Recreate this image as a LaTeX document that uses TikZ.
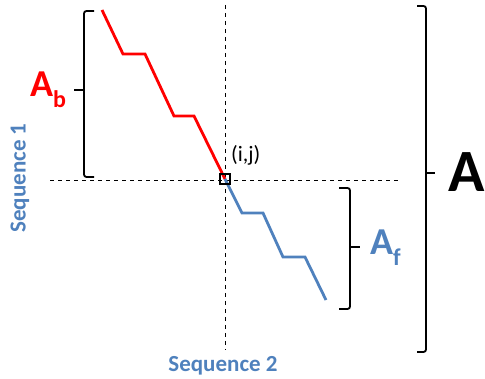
\documentclass[tikz,border=0pt]{standalone}
\usepackage{fontspec}
\setmainfont{Carlito}
\usepackage{xcolor}
\usepackage{tikz}
\usetikzlibrary{positioning, calc}
\definecolor{seqblue}{RGB}{79,129,189}
\tikzset{
  %% Dashed cross lines
  guide/.style={draw=black, line width=0.9pt, dash pattern=on 4pt off 4pt},
  %% Alignment path
  apath/.style={draw=#1, line width=2.8pt, line join=miter},
  apath/.default=red,
  %% Bracket
  bracket/.style={draw=black, line width=1.8pt, rounded corners=2.5pt},
  %% Sequence labels
  seqlbl/.style={text=seqblue, font=\fontsize{23}{23}\selectfont\bfseries,
                 inner sep=0pt},
  %% Score labels
  score/.style={font=\fontsize{#1}{#1}\selectfont\bfseries, inner sep=0pt,
                anchor=base west},
}

\begin{document}
\begin{tikzpicture}[x=1pt, y=-1pt]
  \useasboundingbox (0,0) rectangle (485,379);

  %% crossing cell
  \coordinate (ij) at (225,179);

  %% guide lines
  \coordinate (vtop) at (225,5);
  \coordinate (vbot) at (225,350);
  \coordinate (hleft) at (50,180);
  \coordinate (hright) at (398,180);
  \draw[guide] (vtop) -- (vbot);
  \draw[guide] (hleft) -- (hright);

  %% backward part
  \coordinate (r1) at (102,10);
  \coordinate (r2) at (123,54);
  \coordinate (r3) at (145,54);
  \coordinate (r4) at (174,116);
  \coordinate (r5) at (194,116);
  \draw[apath=red] (r1) -- (r2) -- (r3) -- (r4) -- (r5) -- (ij);

  %% forward part
  \coordinate (b2) at (242,213);
  \coordinate (b3) at (263,213);
  \coordinate (b4) at (283,257);
  \coordinate (b5) at (305,257);
  \coordinate (b6) at (326,300);
  \draw[apath=seqblue] (ij) -- (b2) -- (b3) -- (b4) -- (b5) -- (b6);

  \node[draw=black, line width=1.6pt, fill=none, minimum size=10pt,
        inner sep=0pt] (cell) at (ij) {};
  \node[font=\fontsize{22}{22}\selectfont, inner sep=0pt,
        anchor=base west] (ijlbl) at (231,162) {(i,j)};

  %% brackets
  \draw[bracket] (94,11) -- (84,11) -- (84,177) -- (94,177);
  \draw[bracket] (84,90) -- (74,90);
  \draw[bracket] (339,188) -- (350,188) -- (350,309) -- (339,309);
  \draw[bracket] (350,247) -- (360,247);
  \draw[bracket] (417,6) -- (426,6) -- (426,352) -- (417,352);
  \draw[bracket] (426,173) -- (435,173);

  %% scores
  \node[score=38, text=red] (ab) at (30,97)
       {A\raisebox{-0.27em}{\fontsize{24}{24}\selectfont b}};
  \node[score=38, text=seqblue] (af) at (370,255)
       {A\raisebox{-0.27em}{\fontsize{24}{24}\selectfont f}};
  \node[score=60, text=black] (atot) at (448,192) {A};

  %% sequences
  \node[seqlbl, rotate=90] (seq1) at (20,178) {Sequence 1};
  \node[seqlbl] (seq2) at (223,366) {Sequence 2};
\end{tikzpicture}
\end{document}
